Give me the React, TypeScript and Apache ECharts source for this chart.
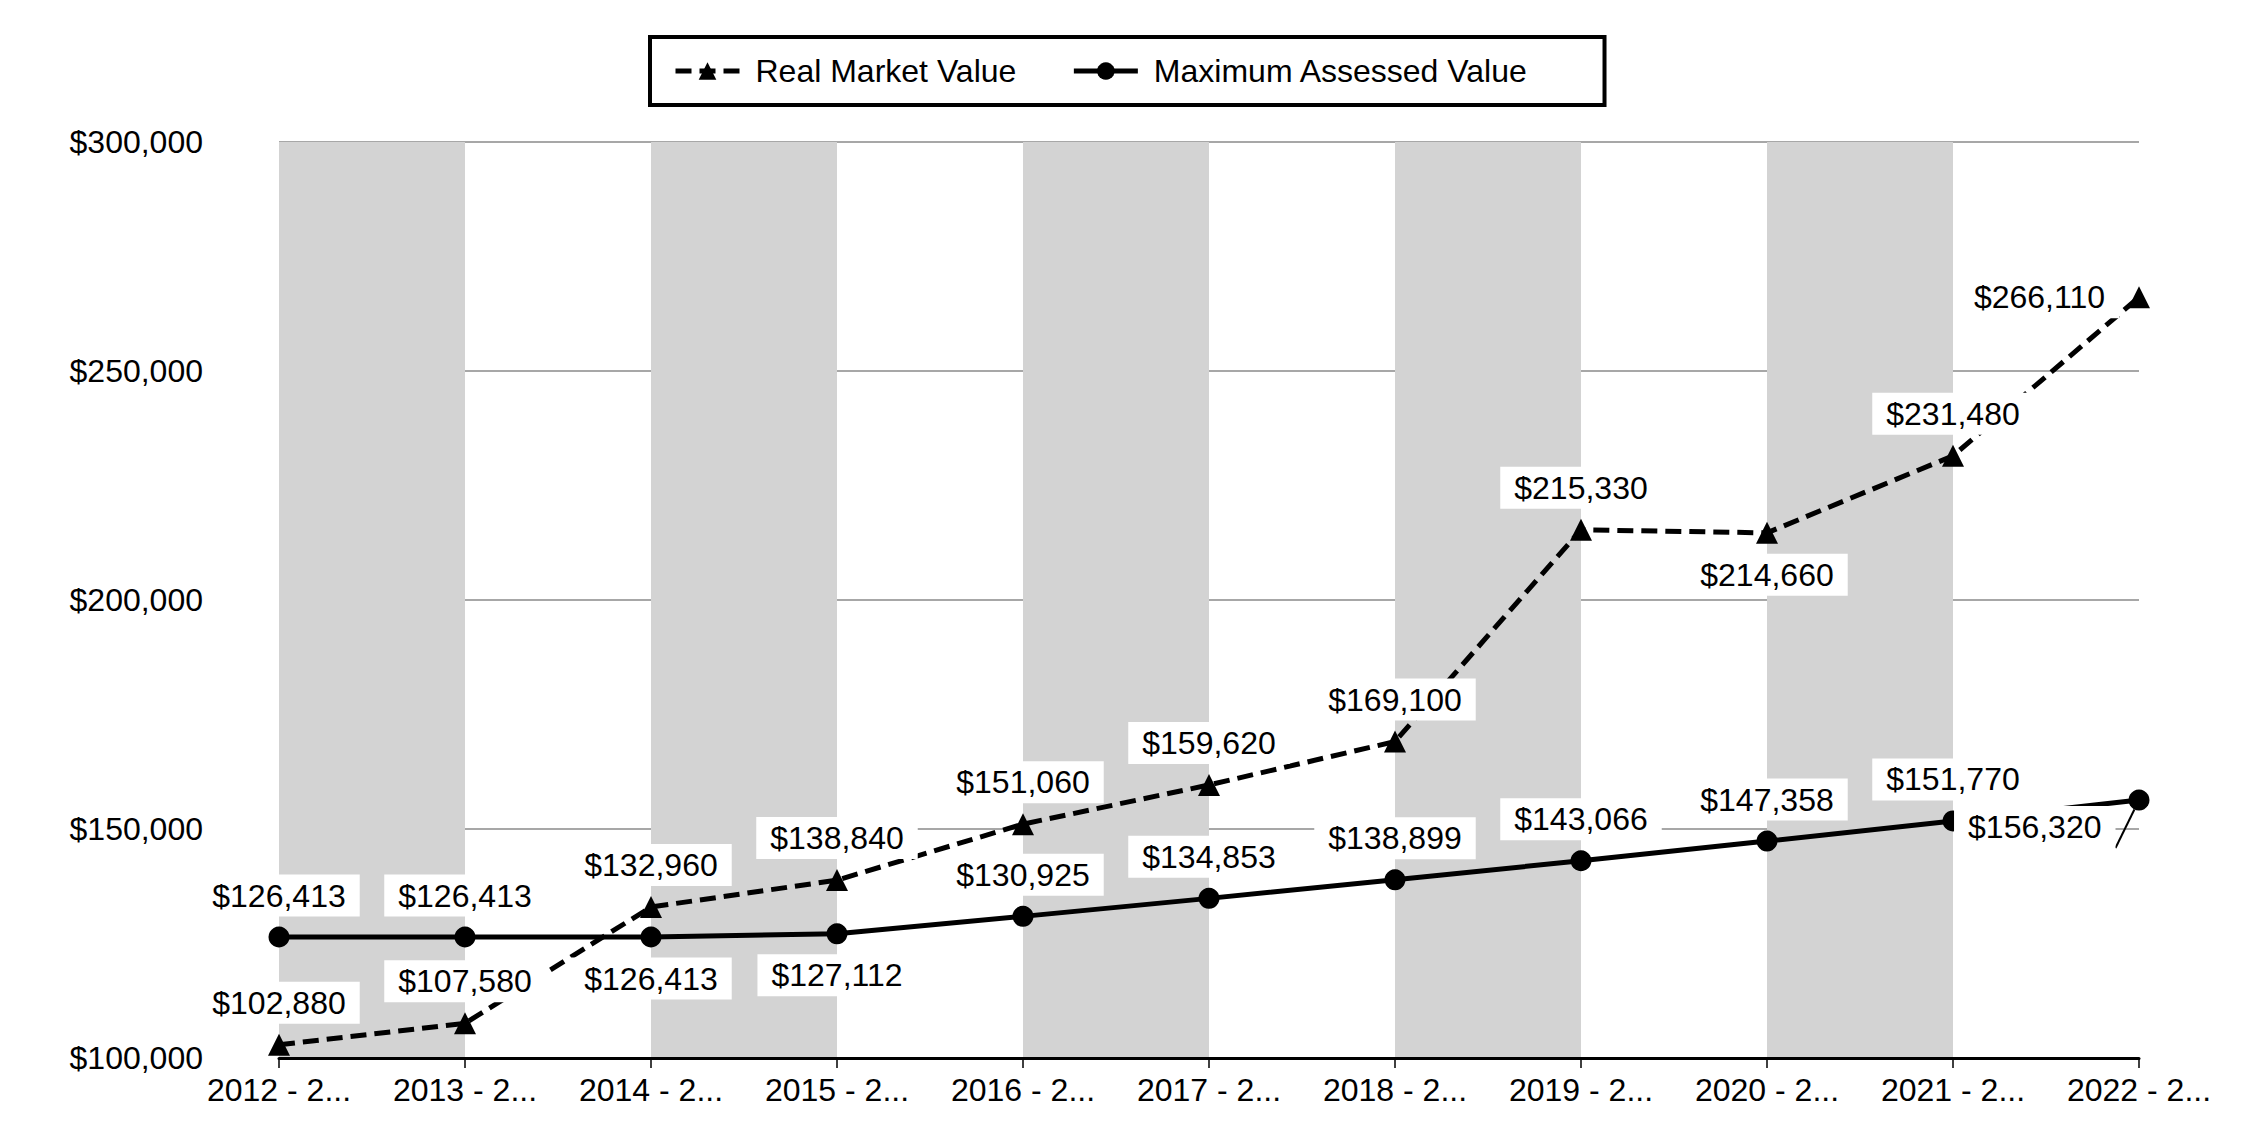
import React, { useEffect, useRef } from "react";
import * as echarts from "echarts";

const categories = [
  "2012 - 2013",
  "2013 - 2014",
  "2014 - 2015",
  "2015 - 2016",
  "2016 - 2017",
  "2017 - 2018",
  "2018 - 2019",
  "2019 - 2020",
  "2020 - 2021",
  "2021 - 2022",
  "2022 - 2023",
];
const realMarketValues = [102880, 107580, 132960, 138840, 151060, 159620, 169100, 215330, 214660, 231480, 266110];
const maxAssessedValues = [126413, 126413, 126413, 127112, 130925, 134853, 138899, 143066, 147358, 151770, 156320];
const realLabelPositions = ["top", "top", "top", "top", "top", "top", "top", "top", "bottom", "top", "left"];
const maxLabelPositions = ["top", "top", "bottom", "bottom", "top", "top", "top", "top", "top", "top", "callout"];
const yMin = 100000;
const yMax = 300000;
const yInterval = 50000;

const FONT = "'Liberation Sans', Arial, sans-serif";
const money = (v: number) => "$" + Math.round(v).toLocaleString("en-US");

function buildData(values: number[], positions: string[]) {
  return values.map((v, i) => {
    const p = positions[i];
    if (p === "callout") {
      return {
        value: v,
        label: { position: "left", distance: 13, offset: [0, 27] },
        labelLine: { show: true, lineStyle: { color: "#000", width: 2 } },
      };
    }
    return { value: v, label: { position: p, distance: p === "left" ? 9 : 10 } };
  });
}

const labelStyle = {
  show: true,
  formatter: (p: any) => money(p.value),
  color: "#000",
  fontFamily: FONT,
  fontSize: 32,
  lineHeight: 36,
  backgroundColor: "#fff",
  padding: [3, 14, 3, 14],
};

export default function App() {
  const ref = useRef<HTMLDivElement>(null);
  useEffect(() => {
    if (!ref.current) return;
    const chart = echarts.init(ref.current, undefined, { renderer: "svg" });
    chart.setOption({
      animation: false,
      backgroundColor: "#fff",
      textStyle: { fontFamily: FONT },
      legend: {
        data: ["Real Market Value", "Maximum Assessed Value"],
        top: 37,
        left: 650,
        itemWidth: 64,
        itemHeight: 22,
        itemGap: 55,
        padding: [16, 76, 16, 23],
        borderColor: "#000",
        borderWidth: 4,
        lineStyle: { width: 5 },
        textStyle: {
          color: "#000",
          fontSize: 32,
          fontFamily: FONT,
          lineHeight: 36,
          padding: [0, 0, 0, 11],
        },
      },
      grid: { left: 279, right: 111, top: 142, bottom: 82, containLabel: false },
      xAxis: {
        type: "category",
        data: categories,
        boundaryGap: false,
        axisLine: { show: true, lineStyle: { color: "#000", width: 3 } },
        axisTick: { show: true, length: 10, lineStyle: { color: "#000", width: 1.5 } },
        axisLabel: {
          color: "#000",
          fontSize: 32,
          fontFamily: FONT,
          margin: 16,
          interval: 0,
          formatter: (v: string) => v.slice(0, 8) + "...",
        },
        splitLine: { show: false },
        splitArea: { show: true, areaStyle: { color: ["#d3d3d3", "rgba(255,255,255,0)"] } },
      },
      yAxis: {
        type: "value",
        min: yMin,
        max: yMax,
        interval: yInterval,
        axisLine: { show: false },
        axisTick: { show: false },
        axisLabel: {
          color: "#000",
          fontSize: 32,
          fontFamily: FONT,
          margin: 76,
          formatter: (v: number) => money(v),
        },
        splitLine: { show: true, lineStyle: { color: "#8a8a8a", width: 1.5 } },
      },
      series: [
        {
          name: "Maximum Assessed Value",
          type: "line",
          data: buildData(maxAssessedValues, maxLabelPositions),
          symbol: "circle",
          symbolSize: 21,
          lineStyle: { color: "#000", width: 5, type: "solid" },
          itemStyle: { color: "#000" },
          label: labelStyle,
          z: 2,
        },
        {
          name: "Real Market Value",
          type: "line",
          data: buildData(realMarketValues, realLabelPositions),
          symbol: "triangle",
          symbolSize: 22,
          lineStyle: { color: "#000", width: 5, type: [16, 8] },
          itemStyle: { color: "#000" },
          label: labelStyle,
          z: 2,
        },
      ],
    });
    return () => chart.dispose();
  }, []);
  return (
    <div
      ref={ref}
      style={{ position: "absolute", left: 0, top: 0, width: 2250, height: 1140, background: "#fff" }}
    />
  );
}
